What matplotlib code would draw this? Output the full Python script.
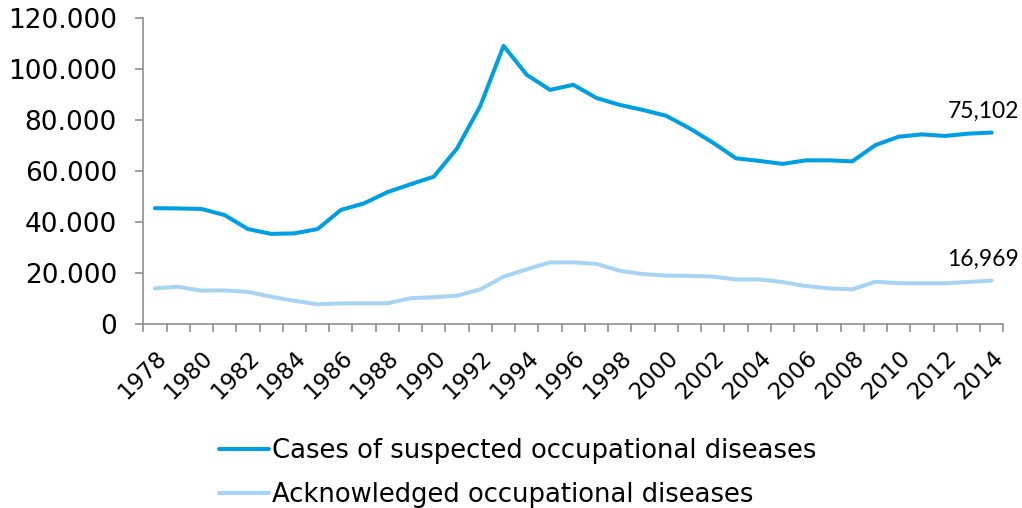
import matplotlib
matplotlib.use('Agg')
import matplotlib.pyplot as plt
import matplotlib.ticker as ticker
import matplotlib.transforms as mtransforms

# Data
years = list(range(1978, 2015))
suspected = [45400, 45300, 45100, 42700, 37200, 35300, 35500, 37200, 44700, 47300,
             51700, 54800, 57800, 68900, 85600, 109200, 97800, 91900, 93900, 88700,
             86000, 84000, 81700, 76800, 71200, 65000, 64000, 62800, 64200, 64200,
             63800, 70200, 73500, 74400, 73800, 74700, 75102]
acknowledged = [13900, 14500, 13000, 13100, 12500, 10600, 9000, 7600, 8000, 8000,
                8000, 10000, 10400, 11000, 13500, 18500, 21400, 24100, 24100, 23500,
                20800, 19500, 18900, 18800, 18500, 17400, 17400, 16400, 14800, 13900,
                13500, 16500, 15900, 15900, 15900, 16400, 16969]
series_labels = ['Cases of suspected occupational diseases', 'Acknowledged occupational diseases']
end_labels = ['75,102', '16,969']

dark_blue = '#009fe3'
light_blue = '#a8d4f4'
axis_grey = '#868686'

plt.rcParams['font.family'] = 'DejaVu Sans'

fig = plt.figure(figsize=(10.22, 5.08), dpi=100)
ax = fig.add_axes([0.1402, 0.3628, 0.8415, 0.6010])

pos = list(range(len(years)))
ax.plot(pos, suspected, color=dark_blue, lw=2.9, solid_capstyle='round',
        solid_joinstyle='round', label=series_labels[0])
ax.plot(pos, acknowledged, color=light_blue, lw=2.9, solid_capstyle='round',
        solid_joinstyle='round', label=series_labels[1])

# end-of-line value labels
for vals, txt in zip([suspected, acknowledged], end_labels):
    ax.annotate(txt, (pos[-1], vals[-1]), xytext=(-6, 7.5), textcoords='offset points',
                ha='center', va='bottom', fontsize=16.5, family='Lato')

ax.set_xlim(-0.5, len(years) - 0.5)
ax.set_ylim(0, 120000)
ax.yaxis.set_major_locator(ticker.MultipleLocator(20000))
ax.yaxis.set_major_formatter(ticker.FuncFormatter(lambda v, p: f'{v:,.0f}'.replace(',', '.')))

# ticks on category boundaries, labels on every second year
ax.set_xticks([p - 0.5 for p in pos] + [len(years) - 0.5])
ax.set_xticklabels([])
ax.set_xticks(pos[::2], minor=True)
ax.set_xticklabels([str(y) for y in years[::2]], minor=True, rotation=45,
                   ha='right', rotation_mode='anchor')
shift = mtransforms.ScaledTranslation(-0.08, 0, fig.dpi_scale_trans)
for lbl in ax.get_xticklabels(minor=True):
    lbl.set_transform(lbl.get_transform() + shift)

ax.tick_params(axis='x', which='major', length=6, width=1.1, color=axis_grey, direction='out')
ax.tick_params(axis='x', which='minor', length=0, pad=16, labelsize=16.5)
ax.tick_params(axis='y', length=6, width=1.1, color=axis_grey, pad=13, labelsize=19)

for side in ['top', 'right']:
    ax.spines[side].set_visible(False)
for side in ['left', 'bottom']:
    ax.spines[side].set_color(axis_grey)
    ax.spines[side].set_linewidth(1.1)

fig.legend(loc='upper left', bbox_to_anchor=(219 / 1022, 1 - 438 / 508), frameon=False,
           fontsize=18.6, handlelength=1.95, handletextpad=0.12, labelspacing=0.69,
           borderpad=0, borderaxespad=0)

fig.savefig('out.png', dpi=100)
